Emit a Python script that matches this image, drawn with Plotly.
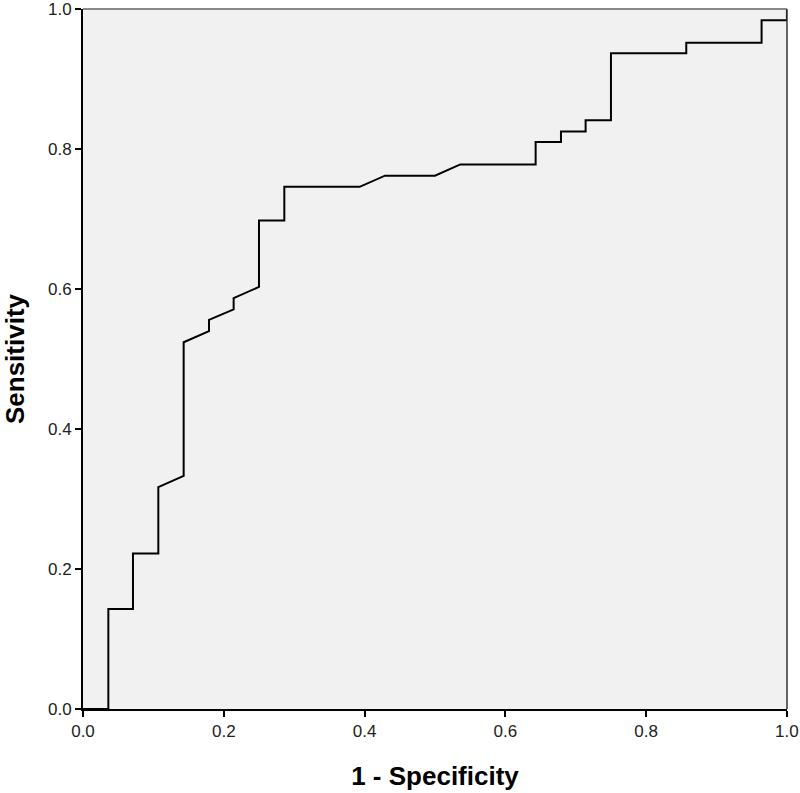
import plotly.graph_objects as go

fpr = [0.0, 0.036, 0.036, 0.071, 0.071, 0.107, 0.107, 0.143, 0.143, 0.179, 0.179,
       0.214, 0.214, 0.250, 0.250, 0.286, 0.286, 0.393, 0.429, 0.500, 0.536,
       0.643, 0.643, 0.679, 0.679, 0.714, 0.714, 0.750, 0.750, 0.857, 0.857,
       0.964, 0.964, 1.0, 1.0]
tpr = [0.0, 0.0, 0.143, 0.143, 0.222, 0.222, 0.317, 0.333, 0.524, 0.540, 0.556,
       0.571, 0.587, 0.603, 0.698, 0.698, 0.746, 0.746, 0.762, 0.762, 0.778,
       0.778, 0.810, 0.810, 0.825, 0.825, 0.841, 0.841, 0.937, 0.937, 0.952,
       0.952, 0.984, 0.984, 1.0]
tick_vals = [0.0, 0.2, 0.4, 0.6, 0.8, 1.0]
tick_text = ["0.0", "0.2", "0.4", "0.6", "0.8", "1.0"]

FONT = "Liberation Sans, Arial"

fig = go.Figure()
fig.add_trace(go.Scatter(x=fpr, y=tpr, mode="lines",
                         line=dict(color="black", width=2), showlegend=False,
                         hoverinfo="skip", cliponaxis=False))

axis_common = dict(range=[0, 1.0001], tickvals=tick_vals, ticktext=tick_text,
                   showgrid=False, zeroline=False, showline=True,
                   linecolor="black", linewidth=2, ticks="outside",
                   ticklen=6, tickwidth=2, tickcolor="black", automargin=False,
                   ticklabeloverflow="allow",
                   tickfont=dict(family=FONT, size=17, color="#222"))

fig.update_layout(
    width=800, height=793,
    margin=dict(l=83, r=13, t=9, b=84),
    paper_bgcolor="white", plot_bgcolor="#f1f1f1",
    xaxis=dict(**axis_common,
               title=dict(text="<b>1 - Specificity</b>",
                          font=dict(family=FONT, size=26, color="black"),
                          standoff=26)),
    yaxis=dict(**axis_common,
               title=dict(text="<b>Sensitivity</b>",
                          font=dict(family=FONT, size=26, color="black"),
                          standoff=16)),
    shapes=[
        dict(type="line", xref="paper", yref="paper", x0=0, x1=1, y0=1, y1=1,
             line=dict(color="#888", width=2)),
        dict(type="line", xref="paper", yref="paper", x0=1, x1=1, y0=0, y1=1,
             line=dict(color="#333", width=1.5)),
    ],
)

fig.write_html("out.html", config={"displayModeBar": False},
               post_script="document.body.style.margin='0';")
